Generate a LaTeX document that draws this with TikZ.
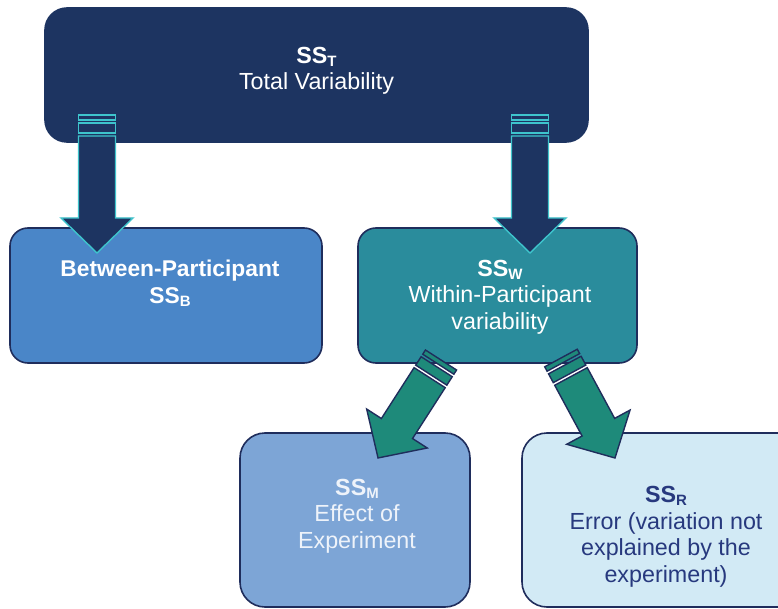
\documentclass[tikz,border=0pt]{standalone}
\usepackage{fontspec}
\setmainfont{Liberation Sans}
\usetikzlibrary{calc}
\definecolor{navy}{HTML}{1D3461}
\definecolor{edge}{HTML}{1F2D5C}
\definecolor{midblue}{HTML}{4A86C8}
\definecolor{tealbox}{HTML}{2A8C9C}
\definecolor{steel}{HTML}{7DA5D6}
\definecolor{pale}{HTML}{D2EAF5}
\definecolor{arrgreen}{HTML}{1E8A7A}
\definecolor{cyanline}{HTML}{3EC4CC}
\definecolor{darktext}{HTML}{27397E}
\definecolor{lighttext}{HTML}{EEF3FA}

\newcommand\sbs[1]{\raisebox{-3pt}{\fontsize{15}{15}\selectfont\bfseries #1}}
\newcommand\fatarrow[4]{%
  \pgfpointdiff{\pgfpointanchor{#1}{center}}{\pgfpointanchor{#2}{center}}%
  \pgfgetlastxy{\arrdx}{\arrdy}%
  \pgfmathsetmacro\arrlen{veclen(\arrdx,\arrdy)}%
  \pgfmathsetmacro\arrang{atan2(\arrdy,\arrdx)}%
  \begin{scope}[shift={(#1)},rotate=\arrang,x=1pt,y=1pt]
    \filldraw[fill=#3,draw=#4,line width=1.4pt,line join=miter] (0,-18.5) rectangle (5,18.5);
    \filldraw[fill=#3,draw=#4,line width=1.4pt,line join=miter] (8,-18.5) rectangle (18,18.5);
    \filldraw[fill=#3,draw=#4,line width=1.4pt,line join=miter]
      (21,-18.5) -- ({\arrlen-35},-18.5) -- ({\arrlen-35},-36) -- (\arrlen,0)
      -- ({\arrlen-35},36) -- ({\arrlen-35},18.5) -- (21,18.5) -- cycle;
  \end{scope}}

\tikzset{
  boxbase/.style={inner sep=0pt, outer sep=0pt, line width=1.6pt, draw=edge},
  txt/.style={align=center, font=\fontsize{23.3}{26.5}\selectfont, inner sep=0pt, outer sep=0pt}
}

\begin{document}
\begin{tikzpicture}[x=1pt,y=-1pt]
\useasboundingbox (0,0) rectangle (778,609);
\fill[white] (0,0) rectangle (778,609);
\clip (0,0) rectangle (778,609);

% boxes
\node[boxbase, draw=navy, fill=navy, rounded corners=22pt, minimum width=543pt, minimum height=134pt] (top) at (316.5,75) {};
\node[boxbase, fill=midblue, rounded corners=18pt, minimum width=312pt, minimum height=135pt] (bet) at (166,295.5) {};
\node[boxbase, fill=tealbox, rounded corners=18pt, minimum width=279pt, minimum height=135pt] (wit) at (497.5,295.5) {};
\node[boxbase, fill=steel, rounded corners=25pt, minimum width=230pt, minimum height=174pt] (eff) at (355,520) {};
\node[boxbase, fill=pale, rounded corners=25pt, minimum width=288pt, minimum height=174pt] (err) at (666,520) {};

% texts
\node[txt, text=white] (ttop) at (316.5,71) {\textbf{SS\sbs{T}}\\Total Variability};
\node[txt, text=white, font=\fontsize{22.8}{26.5}\selectfont\bfseries] (tbet) at (170,283) {Between-Participant\\SS\sbs{B}};
\node[txt, text=white] (twit) at (500,297) {\textbf{SS\sbs{W}}\\Within-Participant\\variability};
\node[txt, text=lighttext] (teff) at (357,516) {\textbf{SS\sbs{M}}\\Effect of\\Experiment};
\node[txt, text=darktext] (terr) at (666,537) {\textbf{SS\sbs{R}}\\Error (variation not\\explained by the\\experiment)};

% arrow end points
\coordinate (a1) at (97,115);  \coordinate (b1) at (97,253);
\coordinate (a2) at (530,115); \coordinate (b2) at (530,253);
\coordinate (a3) at (441,360); \coordinate (b3) at (378,458);
\coordinate (a4) at (561,358); \coordinate (b4) at (615,458);

\fatarrow{a1}{b1}{navy}{cyanline}
\fatarrow{a2}{b2}{navy}{cyanline}
\fatarrow{a3}{b3}{arrgreen}{edge}
\fatarrow{a4}{b4}{arrgreen}{edge}
\end{tikzpicture}
\end{document}
